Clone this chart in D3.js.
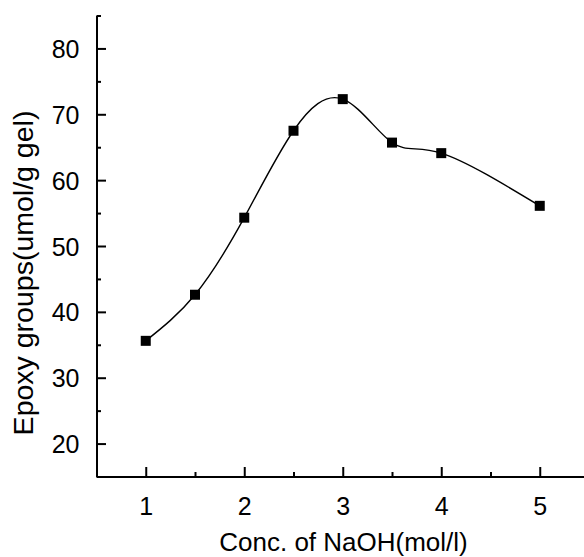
<!DOCTYPE html>
<html><head><meta charset="utf-8">
<script src="https://cdn.jsdelivr.net/npm/d3@7"></script>
<style>body{margin:0;background:#fff;overflow:hidden}svg{display:block}</style>
</head><body>
<svg id="c" width="584" height="557"></svg>
<script>
const concentration = [1, 1.5, 2, 2.5, 3, 3.5, 4, 5];
const epoxy = [35.6, 42.6, 54.3, 67.5, 72.3, 65.7, 64.1, 56.1];
const xTicks = [1, 2, 3, 4, 5];
const xMinor = [1.5, 2.5, 3.5, 4.5];
const yTicks = [20, 30, 40, 50, 60, 70, 80];
const yMinor = [15, 25, 35, 45, 55, 65, 75, 85];
const xTitle = "Conc. of NaOH(mol/l)";
const yTitle = "Epoxy groups(umol/g gel)";

const svg = d3.select("#c");
const x = d3.scaleLinear().domain([0.5, 5.5]).range([96.5, 589]);
const y = d3.scaleLinear().domain([15, 85]).range([476.5, 15.5]);
const font = "Arial, 'Liberation Sans', sans-serif";

// minor ticks
svg.append("g").attr("transform", `translate(0,${y(15)})`)
  .call(d3.axisTop(x).tickValues(xMinor).tickSize(4.5).tickFormat(""))
  .call(g => g.select(".domain").remove())
  .call(g => g.selectAll("line").attr("stroke", "#000").attr("stroke-width", 2));
svg.append("g").attr("transform", `translate(${x(0.5)},0)`)
  .call(d3.axisRight(y).tickValues(yMinor).tickSize(4.5).tickFormat(""))
  .call(g => g.select(".domain").remove())
  .call(g => g.selectAll("line").attr("stroke", "#000").attr("stroke-width", 2));

// major x axis
const gx = svg.append("g").attr("transform", `translate(0,${y(15)})`)
  .call(d3.axisTop(x).tickValues(xTicks).tickSize(9.5).tickSizeOuter(0).tickFormat(d3.format("d")));
gx.select(".domain").attr("stroke", "#000").attr("stroke-width", 2);
gx.selectAll("line").attr("stroke", "#000").attr("stroke-width", 2);
gx.selectAll("text").attr("y", 38).attr("dy", null).attr("fill", "#000")
  .style("font-family", font).style("font-size", "25px");

// major y axis
const gy = svg.append("g").attr("transform", `translate(${x(0.5)},0)`)
  .call(d3.axisRight(y).tickValues(yTicks).tickSize(9.5).tickSizeOuter(0).tickFormat(d3.format("d")));
gy.select(".domain").attr("stroke", "#000").attr("stroke-width", 2);
gy.selectAll("line").attr("stroke", "#000").attr("stroke-width", 2);
gy.selectAll("text").attr("x", -17).attr("dy", "0.36em").attr("text-anchor", "end").attr("fill", "#000")
  .style("font-family", font).style("font-size", "25px");

// curve
const pts = concentration.map((c, i) => [c, epoxy[i]]);
svg.append("path").datum(pts)
  .attr("d", d3.line().x(d => x(d[0])).y(d => y(d[1])).curve(d3.curveNatural))
  .attr("fill", "none").attr("stroke", "#000").attr("stroke-width", 1.4);

svg.append("g").selectAll("rect").data(pts).join("rect")
  .attr("x", d => x(d[0]) - 5).attr("y", d => y(d[1]) - 5)
  .attr("width", 10).attr("height", 10).attr("fill", "#000");

// titles
svg.append("text").attr("x", 343.5).attr("y", 551).attr("text-anchor", "middle")
  .style("font-family", font).style("font-size", "26px").text(xTitle);
svg.append("text").attr("transform", "translate(33,273) rotate(-90)").attr("text-anchor", "middle")
  .style("font-family", font).style("font-size", "28.5px").text(yTitle);
</script>
</body></html>
